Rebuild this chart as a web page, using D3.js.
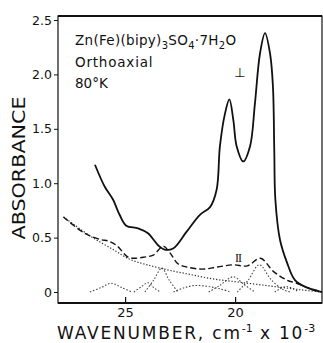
<!DOCTYPE html>
<html><head><meta charset="utf-8">
<script src="https://cdn.jsdelivr.net/npm/d3@7"></script>
<style>
html,body{margin:0;padding:0;background:#fff;}
svg{display:block;font-family:"DejaVu Sans","Open Sans",sans-serif;}
</style></head>
<body>
<svg id="c" width="323" height="343"></svg>
<script>
// ---- data: [wavenumber (10^3 cm^-1), absorbance] ----
const perpendicular = [[26.37,1.17],[25.93,0.97],[25.55,0.85],[25.25,0.71],[24.95,0.61],[24.41,0.585],[23.96,0.54],[23.5,0.43],[23.2,0.39],[22.82,0.40],[22.22,0.55],[21.6,0.71],[21.14,0.78],[20.84,0.94],[20.69,1.34],[20.46,1.64],[20.26,1.77],[20.08,1.58],[19.93,1.34],[19.63,1.20],[19.32,1.34],[19.1,1.73],[18.87,2.19],[18.64,2.38],[18.41,2.19],[18.28,1.89],[18.22,1.31],[18.17,0.85],[17.96,0.48],[17.64,0.27],[17.28,0.11],[16.73,0.04],[16.05,0.0]];
const parallel = [[27.8,0.69],[26.84,0.54],[26.08,0.48],[25.78,0.47],[25.4,0.43],[24.87,0.32],[24.63,0.31],[24.17,0.32],[23.72,0.34],[23.26,0.42],[22.96,0.36],[22.6,0.26],[22.2,0.23],[21.5,0.21],[20.8,0.23],[20.07,0.25],[19.45,0.24],[18.85,0.31],[18.26,0.19],[17.65,0.11],[17.2,0.08],[16.7,0.04],[16.05,0.0]];
const baseline = [[27.8,0.69],[26.55,0.51],[25.54,0.39],[24.78,0.30],[24.0,0.25],[23.0,0.20],[22.0,0.16],[21.0,0.12],[20.0,0.095],[19.0,0.07],[18.0,0.045],[17.0,0.02],[16.1,0.0]];
const band1 = [[26.6,0],[26.1,0.04],[25.63,0.08],[25.15,0.04],[24.7,0]];
const band2 = [[24.6,0],[24.25,0.05],[23.96,0.085],[23.7,0.04],[23.4,0]];
const band3 = [[24.1,0],[23.7,0.11],[23.33,0.22],[23.0,0.11],[22.6,0]];
const band4 = [[22.8,0],[22.3,0.04],[21.8,0.06],[21.2,0.05],[20.7,0.03],[20.2,0]];
const band5 = [[21.2,0],[20.7,0.06],[20.08,0.14],[19.6,0.07],[19.1,0]];
const band6 = [[19.9,0],[19.4,0.11],[18.9,0.25],[18.35,0.11],[17.8,0.02],[17.5,0]];
const band7 = [[18.2,0],[17.65,0.05],[17.1,0]];
const xTicks = [25, 20];
const yTicks = [0, 0.5, 1.0, 1.5, 2.0, 2.5];
const yTickLabels = ["0", "0.5", "1.0", "1.5", "2.0", "2.5"];

const svg = d3.select("#c");
const L = 58, R = 322, T = 16, B = 303;
const x = d3.scaleLinear().domain([28.05, 16.05]).range([L, R]);
const y = d3.scaleLinear().domain([-0.101, 2.537]).range([B, T]);

const line = d3.line().x(d => x(d[0])).y(d => y(d[1])).curve(d3.curveCatmullRom.alpha(0.5));

// frame
svg.append("rect").attr("x", L).attr("y", T).attr("width", R - L).attr("height", B - T)
  .attr("fill", "none").attr("stroke", "#111").attr("stroke-width", 1.2);
svg.append("line").attr("x1", L).attr("x2", R).attr("y1", B).attr("y2", B).attr("stroke", "#111").attr("stroke-width", 2.2);
svg.append("line").attr("x1", L).attr("x2", R).attr("y1", T).attr("y2", T).attr("stroke", "#111").attr("stroke-width", 1.8);

// axes
const yAxis = d3.axisLeft(y).tickValues(yTicks).tickSize(4).tickPadding(2)
  .tickFormat((d, i) => yTickLabels[i]);
const gy = svg.append("g").attr("transform", `translate(${L},0)`).call(yAxis);
gy.select(".domain").remove();
gy.selectAll("text").attr("font-size", 12.5).attr("fill", "#111").attr("font-family", "DejaVu Sans");
gy.selectAll("line").attr("stroke", "#111");

const xAxis = d3.axisBottom(x).tickValues(xTicks).tickSize(-6).tickPadding(5).tickFormat(d3.format("d"));
const gx = svg.append("g").attr("transform", `translate(0,${B})`).call(xAxis);
gx.select(".domain").remove();
gx.selectAll("text").attr("font-size", 13).attr("fill", "#111").attr("font-family", "DejaVu Sans");
gx.selectAll("line").attr("stroke", "#111").attr("stroke-width", 1.2);

// series
const bands = [band1, band2, band3, band4, band5, band6, band7];
bands.forEach(b => {
  svg.append("path").attr("d", line(b)).attr("fill", "none")
    .attr("stroke", "#444").attr("stroke-width", 1.1).attr("stroke-dasharray", "1.5,1.8");
});
svg.append("path").attr("d", line(baseline)).attr("fill", "none")
  .attr("stroke", "#333").attr("stroke-width", 1.2).attr("stroke-dasharray", "1.3,1.8");
svg.append("path").attr("d", line(parallel)).attr("fill", "none")
  .attr("stroke", "#111").attr("stroke-width", 1.4).attr("stroke-dasharray", "6,3");
svg.append("path").attr("d", line(perpendicular)).attr("fill", "none")
  .attr("stroke", "#111").attr("stroke-width", 1.8);

// labels
const t = svg.append("text").attr("x", 75).attr("y", 45).attr("font-size", 13.5).attr("letter-spacing", 0.3).attr("fill", "#111");
t.append("tspan").text("Zn(Fe)(bipy)");
t.append("tspan").text("3").attr("font-size", 10).attr("dy", 4);
t.append("tspan").text("SO").attr("dy", -4);
t.append("tspan").text("4").attr("font-size", 10).attr("dy", 4);
t.append("tspan").text("·7H").attr("dy", -4);
t.append("tspan").text("2").attr("font-size", 10).attr("dy", 4);
t.append("tspan").text("O").attr("dy", -4);
svg.append("text").attr("x", 75).attr("y", 67).attr("font-size", 13.5).attr("letter-spacing", 0.8).attr("fill", "#111").text("Orthoaxial");
svg.append("text").attr("x", 75).attr("y", 88).attr("font-size", 13.5).attr("fill", "#111").text("80°K");

svg.append("text").attr("x", 240).attr("y", 77).attr("font-size", 13).attr("text-anchor", "middle").attr("fill", "#111").text("⊥");
svg.append("text").attr("x", 238).attr("y", 262).attr("font-size", 12).attr("font-family", "Liberation Serif")
  .attr("text-anchor", "middle").attr("fill", "#111").attr("letter-spacing", -1).text("II");

svg.append("text").attr("transform", "translate(25,168) rotate(-90)").attr("text-anchor", "middle")
  .attr("font-size", 18).attr("fill", "#111").attr("textLength", 143).attr("lengthAdjust", "spacingAndGlyphs").text("ABSORBANCE");

const xl = svg.append("text").attr("x", 57).attr("y", 339).attr("font-size", 17).attr("letter-spacing", 1.8).attr("fill", "#111");
xl.append("tspan").text("WAVENUMBER, cm");
xl.append("tspan").text("-1").attr("font-size", 11).attr("dy", -7).attr("letter-spacing", 0);
xl.append("tspan").text(" x 10").attr("dy", 7);
xl.append("tspan").text("-3").attr("font-size", 11).attr("dy", -7).attr("letter-spacing", 0);
</script>
</body></html>
